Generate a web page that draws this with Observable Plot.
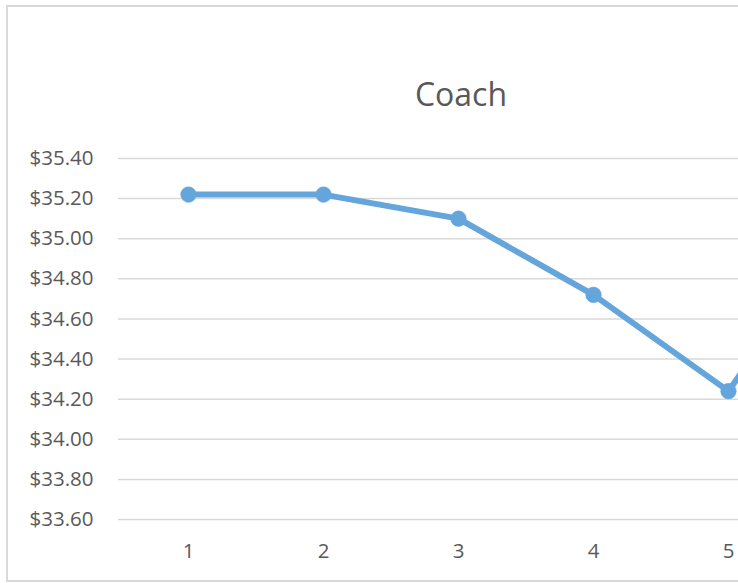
<!DOCTYPE html>
<html>
<head>
<meta charset="utf-8">
<script src="https://cdn.jsdelivr.net/npm/d3@7"></script>
<script src="https://cdn.jsdelivr.net/npm/@observablehq/plot@0.6"></script>
<style>
  html, body { margin: 0; padding: 0; background: #fff; overflow: hidden; width: 738px; height: 583px; }
  #wrap { position: relative; width: 738px; height: 583px; overflow: hidden; }
  #border { position: absolute; left: 6px; top: 5px; width: 910px; height: 577px; border: 2px solid #d9d9d9; box-sizing: border-box; }
  #title { position: absolute; left: 6px; width: 910px; top: 72px; text-align: center; font-family: "Open Sans", sans-serif; font-size: 32px; line-height: normal; color: #595959; }
  #chart { position: absolute; left: 0; top: 0; width: 960px; height: 583px; }
  #chart svg { max-width: none !important; width: 960px !important; height: 583px !important; }
</style>
</head>
<body>
<div id="wrap">
  <div id="border"></div>
  <div id="title">Coach</div>
  <div id="chart"></div>
</div>
<script>
const categories = ["1", "2", "3", "4", "5", "6"];
const values = [35.22, 35.22, 35.10, 34.72, 34.24, 35.20];
const yTicks = [33.6, 33.8, 34.0, 34.2, 34.4, 34.6, 34.8, 35.0, 35.2, 35.4];

const data = categories.map((c, i) => ({cat: c, value: values[i]}));
const color = "#64a5dc";

const chart = Plot.plot({
  width: 960,
  height: 583,
  marginLeft: 118,
  marginRight: 27.5,
  marginTop: 158,
  marginBottom: 64,
  style: {fontFamily: "'Open Sans', sans-serif", fontSize: "20.5px", color: "#595959", background: "transparent", maxWidth: "none"},
  x: {type: "point", domain: categories, padding: 0.5},
  y: {domain: [33.6, 35.4]},
  marks: [
    Plot.gridY(yTicks, {stroke: "#d9d9d9", strokeOpacity: 1, strokeWidth: 1.5}),
    Plot.axisY(yTicks, {tickSize: 0, tickPadding: 25, tickFormat: d => "$" + d.toFixed(2), fill: "#595959", label: null}),
    Plot.axisX({tickSize: 0, tickPadding: 24, fill: "#595959", label: null}),
    Plot.line(data, {x: "cat", y: "value", stroke: color, strokeWidth: 6, strokeLinejoin: "round", strokeLinecap: "round"}),
    Plot.dot(data, {x: "cat", y: "value", r: 7.8, fill: color, stroke: color, strokeWidth: 0.5})
  ]
});
document.getElementById("chart").appendChild(chart);
</script>
</body>
</html>
